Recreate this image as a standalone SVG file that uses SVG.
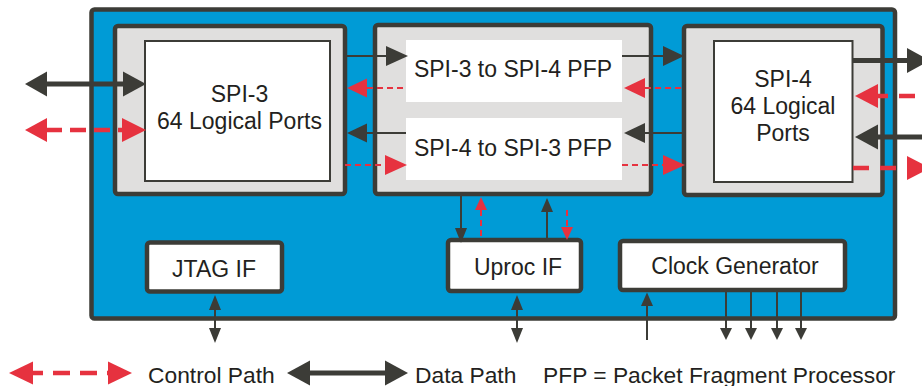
<svg xmlns="http://www.w3.org/2000/svg" width="922" height="386" viewBox="0 0 922 386">
<style>
.outer{fill:#009BD6;stroke:#3C3C37;stroke-width:4.5}
.gray{fill:#E0DFDE;stroke:#3C3C37;stroke-width:4.5}
.inner{fill:#FFFFFF;stroke:#3C3C37;stroke-width:2}
.pfp{fill:#FFFFFF;stroke:none}
.ifbox{fill:#FFFFFF;stroke:#3C3C37;stroke-width:4.5}
text{font-family:"Liberation Sans",Arial,Helvetica,sans-serif;font-size:23px;fill:#231F20;text-anchor:middle}
.legend{text-anchor:start;font-size:22.8px}
.dk{fill:none;stroke:#3C3C37;stroke-width:2}
.dkb{fill:none;stroke:#3C3C37;stroke-width:5}
.rd{fill:none;stroke:#E6323F;stroke-width:2;stroke-dasharray:6 4}
.rdb{fill:none;stroke:#E6323F;stroke-width:4.5}
.hd{fill:#3C3C37}
.hr{fill:#E6323F}
</style>
<g id="chip">
<rect class="outer" x="91.5" y="9.5" width="803.5" height="309" rx="3"/>
</g>
<g id="spi3">
<rect class="gray" x="115" y="26" width="230" height="168" rx="3"/>
<rect class="inner" x="145" y="41" width="185" height="140"/>
<text x="239.5" y="102">SPI-3</text>
<text x="239.5" y="129">64 Logical Ports</text>
</g>
<g id="pfp">
<rect class="gray" x="375" y="25" width="276" height="169" rx="3"/>
<g id="pfp34">
<rect class="pfp" x="406" y="40" width="216" height="62"/>
<text x="513" y="77">SPI-3 to SPI-4 PFP</text>
</g>
<g id="pfp43">
<rect class="pfp" x="406" y="118" width="216" height="62"/>
<text x="513" y="156">SPI-4 to SPI-3 PFP</text>
</g>
</g>
<g id="spi4">
<rect class="gray" x="684" y="26" width="198.5" height="169" rx="3"/>
<rect class="inner" x="714" y="41" width="138.5" height="141"/>
<text x="783" y="87">SPI-4</text>
<text x="783" y="114">64 Logical</text>
<text x="783" y="140.5">Ports</text>
</g>
<g id="jtag">
<rect class="ifbox" x="147" y="242.5" width="135" height="49" rx="3"/>
<text x="214" y="276.5">JTAG IF</text>
</g>
<g id="uproc">
<rect class="ifbox" x="448" y="240" width="133" height="51" rx="3"/>
<text x="518" y="275">Uproc IF</text>
</g>
<g id="clock">
<rect class="ifbox" x="620" y="241" width="225" height="49" rx="3"/>
<text x="735" y="274">Clock Generator</text>
</g>
<g id="connectors">
<!-- left external -->
<path class="dkb" d="M46 84H124"/>
<polygon class="hd" points="25,84 47,71.5 47,96.5"/>
<polygon class="hd" points="146,84 123,71.5 123,96.5"/>
<path class="rdb" d="M46 130H123" stroke-dasharray="16 8"/>
<polygon class="hr" points="25,130 47,118 47,142"/>
<polygon class="hr" points="146,130 122,118 122,142"/>
<!-- SPI-3 <-> PFP -->
<path class="dk" d="M345 56H387"/>
<polygon class="hd" points="408,56 386,46 386,66"/>
<path class="rd" d="M367 88H406"/>
<polygon class="hr" points="347,88 367,78.5 367,97.5"/>
<path class="dk" d="M366 133H406"/>
<polygon class="hd" points="347,133 367,123.5 367,142.5"/>
<path class="rd" d="M345 165H386"/>
<polygon class="hr" points="407,165 385,155 385,175"/>
<!-- PFP <-> SPI-4 -->
<path class="dk" d="M622 56H664"/>
<polygon class="hd" points="684,56 663,46 663,66"/>
<path class="rd" d="M645 88H684"/>
<polygon class="hr" points="624,88 645,78 645,98"/>
<path class="dk" d="M644 133H684"/>
<polygon class="hd" points="624,133 645,123 645,143"/>
<path class="rd" d="M622 165H664"/>
<polygon class="hr" points="685,165 663,155 663,175"/>
<!-- right external -->
<path class="dkb" d="M852 60.5H908" stroke-width="4"/>
<polygon class="hd" points="930,60.5 907,48 907,73"/>
<path class="rdb" d="M878 96H922" stroke-width="4" stroke-dasharray="16 11" stroke-dashoffset="6"/>
<polygon class="hr" points="855,96 878,84 878,108"/>
<path class="dkb" d="M877 137H922" stroke-width="4"/>
<polygon class="hd" points="855,137 878,124.5 878,149.5"/>
<path class="rdb" d="M853 168H907" stroke-width="4" stroke-dasharray="16 11"/>
<polygon class="hr" points="930,168 907,156 907,180"/>
<!-- PFP <-> Uproc -->
<path class="dk" d="M461 196V229"/>
<polygon class="hd" points="461,243 455,228 467,228"/>
<path class="rd" d="M481 210V240"/>
<polygon class="hr" points="481,197 475,210 487,210"/>
<path class="dk" d="M547 211V240"/>
<polygon class="hd" points="547,198 541,212 553,212"/>
<path class="rd" d="M567 210V227"/>
<polygon class="hr" points="567,240 561,227 573,227"/>
<!-- JTAG / Uproc external -->
<path class="dk" d="M215 309V329"/>
<polygon class="hd" points="215,295 209,310 221,310"/>
<polygon class="hd" points="215,343 209,328 221,328"/>
<path class="dk" d="M517 309V329"/>
<polygon class="hd" points="517,295 511,310 523,310"/>
<polygon class="hd" points="517,343 511,328 523,328"/>
<!-- Clock -->
<path class="dk" d="M647 340V305"/>
<polygon class="hd" points="647,292.5 641,306 653,306"/>
<path class="dk" d="M726 292V329M751 292V329M777 292V329M801 292V329"/>
<polygon class="hd" points="726,340 720,328 732,328"/>
<polygon class="hd" points="751,340 745,328 757,328"/>
<polygon class="hd" points="777,340 771,328 783,328"/>
<polygon class="hd" points="801,340 795,328 807,328"/>
</g>
<g id="legend">
<path class="rdb" d="M33 373H108" stroke-dasharray="17 10" stroke-dashoffset="7"/>
<polygon class="hr" points="9,373 33,361.5 33,384.5"/>
<polygon class="hr" points="132,373 108,361.5 108,384.5"/>
<text class="legend" x="148" y="382.5">Control Path</text>
<path class="dkb" d="M309 373H386"/>
<polygon class="hd" points="287,373 310,360.5 310,385.5"/>
<polygon class="hd" points="408,373 385,360.5 385,385.5"/>
<text class="legend" x="415" y="382.5">Data Path</text>
<text class="legend" x="543" y="382.5">PFP = Packet Fragment Processor</text>
</g>
</svg>
